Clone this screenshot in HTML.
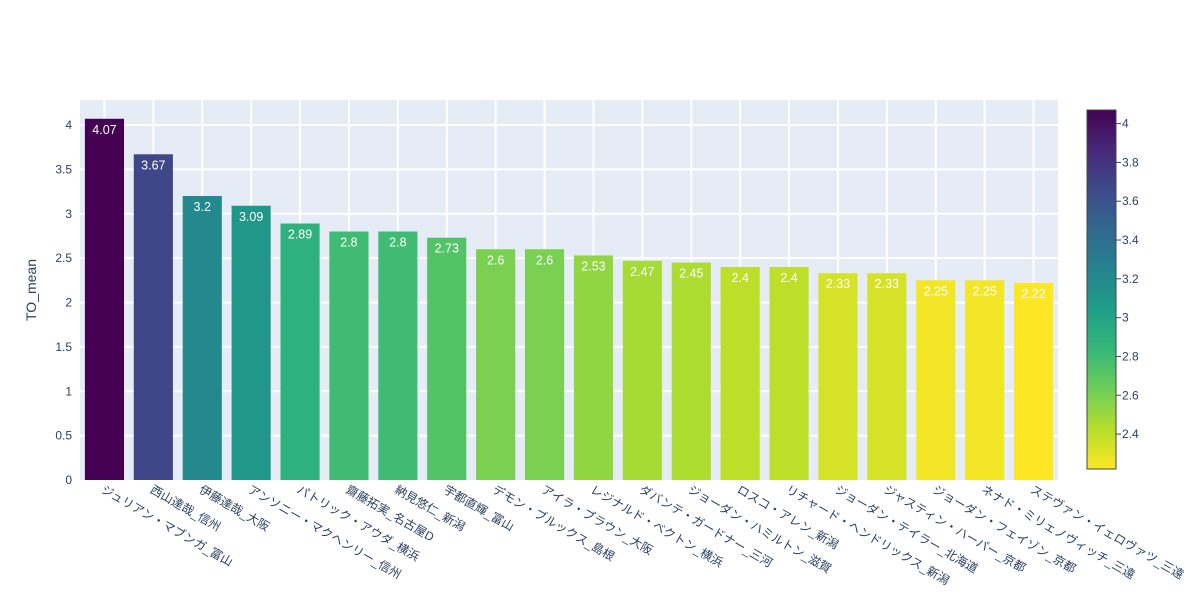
<!DOCTYPE html>
<html><head><meta charset="utf-8"><style>
body{margin:0;background:#fff}
svg{font-family:"Liberation Sans","Noto Sans CJK JP",sans-serif}
</style></head><body>
<svg id="chart" width="1200" height="600">
<rect x="80" y="100" width="978" height="380" fill="#e5ecf6"/>
<g id="grid"></g><g id="bars"></g><g id="xlabels"></g><g id="ylabels"></g>
<text x="36" y="290" font-size="14" fill="#2a3f5f" text-anchor="middle" transform="rotate(-90 36 290)">TO_mean</text>
<defs><linearGradient id="vir" x1="0" y1="1" x2="0" y2="0"></linearGradient></defs>
<rect x="1087" y="110" width="29" height="359" fill="url(#vir)" stroke="#444" stroke-width="1"/>
<g id="cbticks"></g>
</svg>
<script>
const categories=["ジュリアン・マブンガ_富山","西山達哉_信州","伊藤達哉_大阪","アンソニー・マクヘンリー_信州","パトリック・アウダ_横浜","齋藤拓実_名古屋D","納見悠仁_新潟","宇都直輝_富山","デモン・ブルックス_島根","アイラ・ブラウン_大阪","レジナルド・ベクトン_横浜","ダバンテ・ガードナー_三河","ジョーダン・ハミルトン_滋賀","ロスコ・アレン_新潟","リチャード・ヘンドリックス_新潟","ジョーダン・テイラー_北海道","ジャスティン・ハーパー_京都","ジョーダン・フェイゾン_京都","ネナド・ミリェノヴィッチ_三遠","ステヴァン・イェロヴァツ_三遠"];
const values=[4.07,3.67,3.2,3.09,2.89,2.8,2.8,2.73,2.6,2.6,2.53,2.47,2.45,2.4,2.4,2.33,2.33,2.25,2.25,2.22];
const yTicks=[0,0.5,1,1.5,2,2.5,3,3.5,4];
const cbTicks=[2.4,2.6,2.8,3,3.2,3.4,3.6,3.8,4];
const NS="http://www.w3.org/2000/svg";
const vir=["#fde725","#b5de2b","#6ece58","#35b779","#1f9e89","#26828e","#31688e","#3e4989","#482878","#440154"];
function hex(h){return [1,3,5].map(i=>parseInt(h.substr(i,2),16));}
function color(t){t=Math.max(0,Math.min(1,t));const p=t*(vir.length-1),i=Math.min(Math.floor(p),vir.length-2),f=p-i;const a=hex(vir[i]),b=hex(vir[i+1]);return `rgb(${a.map((v,k)=>Math.round(v+(b[k]-v)*f)).join(',')})`;}
const vmin=Math.min(...values),vmax=Math.max(...values);
const X0=80,W=978,Y0=480,PX=88.75;
const slot=W/categories.length;
const y=v=>Y0-v*PX;
function el(t,a,p){const e=document.createElementNS(NS,t);for(const k in a)e.setAttribute(k,a[k]);p.appendChild(e);return e;}
const grid=document.getElementById('grid'),bars=document.getElementById('bars'),xl=document.getElementById('xlabels'),yl=document.getElementById('ylabels');
yTicks.forEach(v=>{if(v>0){const l=el('line',{x1:X0,x2:X0+W,y1:y(v),y2:y(v),stroke:'#fff','stroke-width':2},grid);}
const t=el('text',{x:X0-8,y:y(v)+4,'font-size':12,fill:'#2a3f5f','text-anchor':'end'},yl);t.textContent=v;});
categories.forEach((c,i)=>{const cx=X0+slot*(i+0.5);
const g=el('line',{x1:cx,x2:cx,y1:100,y2:480,stroke:'#fff','stroke-width':2},grid);
const bw=slot*0.8;const r=el('rect',{x:cx-bw/2,y:y(values[i]),width:bw,height:values[i]*PX,fill:color((values[i]-vmin)/(vmax-vmin))},bars);

const vt=el('text',{x:cx,y:y(values[i])+15,'font-size':12.5,fill:'#fff','text-anchor':'middle'},bars);vt.textContent=values[i];

const lt=el('text',{x:cx-4,y:492,'font-size':12,fill:'#2a3f5f','text-anchor':'start',transform:`rotate(30 ${cx-4} 492)`},xl);lt.textContent=c;
});
const grad=document.getElementById('vir');vir.forEach((c,i)=>{el('stop',{offset:i/(vir.length-1),'stop-color':c},grad);});
const cb=document.getElementById('cbticks');const CT=110,CB=469;
cbTicks.forEach(v=>{const yy=CB-(v-vmin)/(vmax-vmin)*(CB-CT);
el('line',{x1:1116,x2:1121,y1:yy,y2:yy,stroke:'#444'},cb);
const t=el('text',{x:1122,y:yy+4,'font-size':12,fill:'#2a3f5f'},cb);t.textContent=v;});
</script>
</body></html>
